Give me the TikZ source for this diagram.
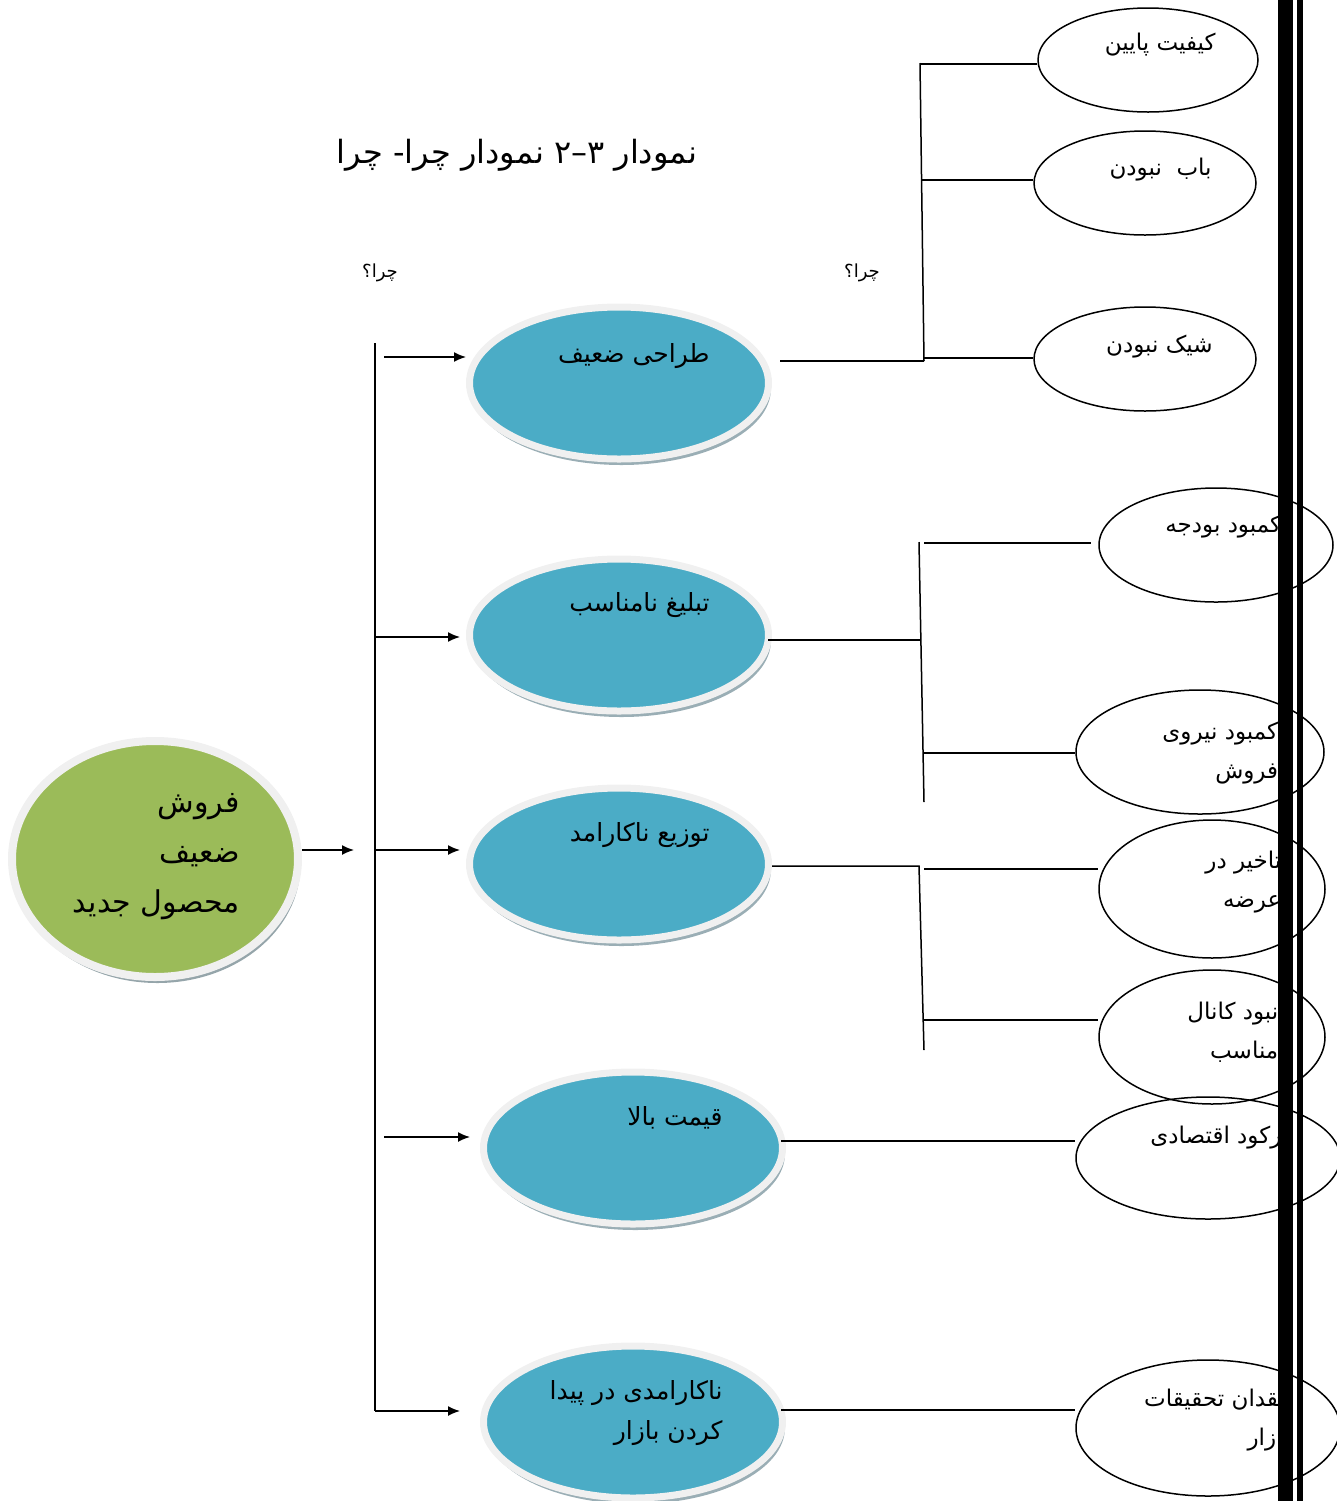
\documentclass[tikz,border=0pt]{standalone}
\usepackage{fontspec}
\newfontfamily\arabicfont[Script=Arabic]{DejaVu Sans}
\TeXXeTstate=1
\usetikzlibrary{shapes.geometric,arrows.meta,shadows}
\definecolor{bluefill}{HTML}{4BACC6}
\definecolor{greenfill}{HTML}{9BBB59}
\definecolor{ringc}{HTML}{F0F0F0}
\definecolor{shadc}{HTML}{9AAEB5}
\begin{document}
\begin{tikzpicture}[x=0.5pt,y=-0.5pt,
  ln/.style={line width=0.75pt, black},
  arr/.style={ln, -{Latex[length=6pt,width=5pt]}},
  mainell/.style={ellipse, fill=bluefill, draw=ringc, line width=3.5pt, inner sep=0pt,
    minimum width=149.5pt, minimum height=76pt,
    drop shadow={shadow xshift=1.2pt, shadow yshift=-3pt, fill=shadc, opacity=1}},
  greenell/.style={ellipse, fill=greenfill, draw=ringc, line width=4pt, inner sep=0pt,
    minimum width=143pt, minimum height=118pt,
    drop shadow={shadow xshift=1.2pt, shadow yshift=-3pt, fill=shadc!80!gray, opacity=1}},
  smallell/.style={ellipse, draw=black, line width=0.75pt, inner sep=0pt},
  mtxt/.style={font=\arabicfont\fontsize{12.5}{20}\selectfont, inner sep=0pt, align=right},
  gtxt/.style={font=\arabicfont\fontsize{15}{25}\selectfont, inner sep=0pt, align=right},
  stxt/.style={font=\arabicfont\fontsize{11.5}{19.5}\selectfont, inner sep=0pt, align=right},
  qtxt/.style={font=\arabicfont\fontsize{9}{11}\selectfont, inner sep=0pt},
  ttxt/.style={font=\arabicfont\fontsize{16}{19}\selectfont, inner sep=0pt},
  bar/.style={fill=black, draw=none}
]
\useasboundingbox (0,0) rectangle (1337,1501);

% title and labels
\node[ttxt] (title) at (517,155) {\beginR نمودار \beginL۳–۲\endL{} نمودار چرا- چرا\endR};
\node[qtxt] (q1) at (380,273) {\beginR چرا؟\endR};
\node[qtxt] (q2) at (862,273) {\beginR چرا؟\endR};

% main ellipses
\node[greenell] (G) at (155,859) {};
\node[gtxt, anchor=east] (Gt) at (240,857) {\beginR فروش\endR\\\beginR ضعیف\endR\\\beginR محصول جدید\endR};

\node[mainell] (E1) at (619,383) {};
\node[mtxt, anchor=east] (E1t) at (710,356) {\beginR طراحی ضعیف\endR};
\node[mainell] (E2) at (619,635) {};
\node[mtxt, anchor=east] (E2t) at (710,605) {\beginR تبلیغ نامناسب\endR};
\node[mainell] (E3) at (619,864) {};
\node[mtxt, anchor=east] (E3t) at (710,835) {\beginR توزیع ناکارامد\endR};
\node[mainell] (E4) at (633,1148) {};
\node[mtxt, anchor=east] (E4t) at (723,1118) {\beginR قیمت بالا\endR};
\node[mainell] (E5) at (633,1422) {};
\node[mtxt, anchor=east] (E5t) at (723,1413) {\beginR ناکارامدی در پیدا\endR\\\beginR کردن بازار\endR};

% small ellipses
\node[smallell, minimum width=110pt, minimum height=52pt] (S1) at (1148,60) {};
\node[smallell, minimum width=111pt, minimum height=52pt] (S2) at (1145,183) {};
\node[smallell, minimum width=111pt, minimum height=52pt] (S3) at (1145,359) {};
\node[smallell, minimum width=117pt, minimum height=57pt] (S4) at (1216,545) {};
\node[smallell, minimum width=124pt, minimum height=62pt] (S5) at (1200,752) {};
\node[smallell, minimum width=113pt, minimum height=69pt] (S6) at (1212,889) {};
\node[smallell, minimum width=113pt, minimum height=67pt] (S7) at (1212,1037) {};
\node[smallell, minimum width=132pt, minimum height=61pt] (S8) at (1208,1158) {};
\node[smallell, minimum width=132pt, minimum height=68pt] (S9) at (1208,1428) {};

\node[stxt, anchor=east] (S1t) at (1216,45) {\beginR کیفیت پایین\endR};
\node[stxt, anchor=east] (S2t) at (1212,170) {\beginR باب~~نبودن\endR};
\node[stxt, anchor=east] (S3t) at (1213,347) {\beginR شیک نبودن\endR};
\node[stxt, anchor=west] (S4t) at (1165,527) {\beginR کمبود بودجه\endR};
\node[stxt, anchor=west] (S5t) at (1162,753) {\beginR کمبود نیروی\endR\\\beginR فروش\endR};
\node[stxt, anchor=west] (S6t) at (1205,882) {\beginR تاخیر در\endR\\\beginR عرضه\endR};
\node[stxt, anchor=west] (S7t) at (1187,1032) {\beginR نبود کانال\endR\\\beginR مناسب\endR};
\node[stxt, anchor=west] (S8t) at (1150,1138) {\beginR رکود اقتصادی\endR};
\node[stxt, anchor=east] (S9t) at (1290,1420) {\beginR فقدان تحقیقات\endR\\\beginR بازار\endR};

% left tree
\coordinate (ga) at (354,850);
\draw[arr] (G.east |- ga) -- (ga);
\coordinate (vt) at (375,343);
\coordinate (vb) at (375,1411);
\coordinate (a1s) at (384,357);
\coordinate (a2s) at (375,637);
\coordinate (a3s) at (375,850);
\coordinate (a4s) at (384,1137);
\draw[ln] (vt) -- (vb);
\draw[arr] (a1s) -- (a1s -| E1.west);
\draw[arr, shorten >=3pt] (a2s) -- (a2s -| E2.west);
\draw[arr, shorten >=3pt] (a3s) -- (a3s -| E3.west);
\draw[arr] (a4s) -- ([xshift=-5pt]a4s -| E4.west);
\draw[arr] (vb) -- ([xshift=-10pt]vb -| E5.west);

% group 1
\coordinate (g1t) at (920,63);
\coordinate (g1b) at (924,361);
\coordinate (b11) at (921,64);
\coordinate (b12) at (922,180);
\coordinate (b13) at (924,358);
\draw[ln] (E1.east |- g1b) ++(8,0) -- (g1b);
\draw[ln] (g1t) -- (g1b);
\draw[ln] (b11) -- (b11 -| S1.west);
\draw[ln] (b12) -- (b12 -| S2.west);
\draw[ln] (b13) -- (b13 -| S3.west);

% group 2
\coordinate (g2t) at (919,542);
\coordinate (g2b) at (924,802);
\coordinate (g2m) at (920,640);
\coordinate (b21) at (924,543);
\coordinate (b22) at (924,753);
\draw[ln] (E2.east |- g2m) ++(-4,0) -- (g2m);
\draw[ln] (g2t) -- (g2b);
\draw[ln] (b21) -- ([xshift=-3.5pt]b21 -| S4.west);
\draw[ln] (b22) -- (b22 -| S5.west);

% group 3
\coordinate (g3t) at (919,866);
\coordinate (g3b) at (924,1050);
\coordinate (b31) at (924,869);
\coordinate (b32) at (924,1020);
\draw[ln] (E3.east |- g3t) -- (g3t) -- (g3b);
\draw[ln] (b31) -- (b31 -| S6.west);
\draw[ln] (b32) -- (b32 -| S7.west);

% group 4, 5
\coordinate (g4) at (781,1141);
\coordinate (g5) at (781,1410);
\draw[ln] (g4) -- (g4 -| S8.west);
\draw[ln] (g5) -- (g5 -| S9.west);

% right bars
\fill[bar] (1278,0) rectangle (1293,1501);
\fill[bar] (1297,0) rectangle (1303,1501);
\end{tikzpicture}
\end{document}
